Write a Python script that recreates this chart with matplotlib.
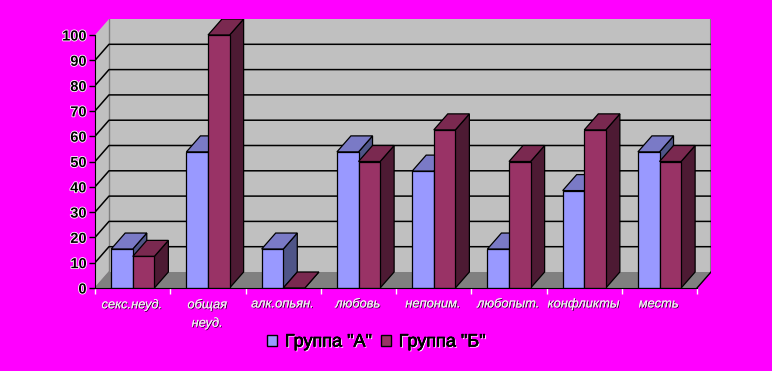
import matplotlib
matplotlib.use("Agg")
import matplotlib.pyplot as plt
import matplotlib.patheffects as pe
from matplotlib.patches import Polygon

categories = ["секс.неуд.", "общая\nнеуд.", "алк.опьян.", "любовь",
              "непоним.", "любопыт.", "конфликты", "месть"]
group_a = [15.4, 53.8, 15.4, 53.8, 46.2, 15.4, 38.5, 53.8]
group_b = [12.5, 100, 0, 50, 62.5, 50, 62.5, 50]
y_ticks = [0, 10, 20, 30, 40, 50, 60, 70, 80, 90, 100]
series_names = ['Группа "А"', 'Группа "Б"']

W, H = 772, 371
BG = "#FF00FF"
# pixel geometry of the plot box
x0_px, x1_px = 95, 697
y0_px, y100_px = 288, 35
dx_px, dy_px = 14, 16
cat_px = (x1_px - x0_px) / len(categories)
val_px = (y0_px - y100_px) / 100
dx = dx_px / cat_px
dy = dy_px / val_px
bar_start = 0.215
bar_w = 0.287

plt.rcParams["font.family"] = ["Liberation Sans", "DejaVu Sans"]
fig = plt.figure(figsize=(W / 100, H / 100), dpi=100, facecolor=BG)
ax = fig.add_axes([x0_px / W, 1 - y0_px / H, (x1_px - x0_px + dx_px) / W,
                   (y0_px - y100_px + dy_px) / H])
ax.set_facecolor("none")
n = len(categories)
ax.set_xlim(0, n + dx)
ax.set_ylim(0, 100 + dy)


def poly(pts, color, edge="none", lw=0.0, z=1):
    ax.add_patch(Polygon(pts, closed=True, facecolor=color, edgecolor=edge,
                         linewidth=lw, zorder=z, joinstyle="miter"))


# walls and floor
poly([(0, 0), (dx, dy), (dx, 100 + dy), (0, 100)], "#C0C0C0")
poly([(dx, dy), (n + dx, dy), (n + dx, 100 + dy), (dx, 100 + dy)], "#C0C0C0")
poly([(0, 0), (n, 0), (n + dx, dy), (dx, dy)], "#808080")
ax.plot([dx, dx], [dy, 100 + dy], color="#808080", lw=1, zorder=2)
ax.plot([n + dx, n + dx], [dy, 100 + dy], color="#808080", lw=1.5, zorder=2)
ax.plot([0, dx], [0, dy], color="#808080", lw=1, zorder=2)
ax.plot([n, n + dx], [0, dy], color="black", lw=1, zorder=2)

for t in y_ticks[1:-1]:
    ax.plot([0, dx, n + dx], [t, t + dy, t + dy], color="black", lw=1.1, zorder=2)


def bar3d(x, h, front, top, side, z):
    w = bar_w
    poly([(x + w, 0), (x + w + dx, dy), (x + w + dx, h + dy), (x + w, h)], side, "black", 0.9, z)
    poly([(x, h), (x + w, h), (x + w + dx, h + dy), (x + dx, h + dy)], top, "black", 0.9, z)
    if h > 0:
        poly([(x, 0), (x + w, 0), (x + w, h), (x, h)], front, "black", 0.9, z)


z = 3
for i in range(n):
    bar3d(i + bar_start, group_a[i], "#9999FF", "#7A7AC6", "#4F5588", z)
    bar3d(i + bar_start + bar_w, group_b[i], "#993366", "#7A2950", "#4D1A33", z + 1)
    z += 2

# axes
for s in ["top", "right"]:
    ax.spines[s].set_visible(False)
ax.spines["left"].set_bounds(0, 100)
ax.spines["bottom"].set_bounds(0, n)
ax.spines["left"].set_zorder(30)
ax.spines["bottom"].set_zorder(30)
ax.set_xticks(range(n + 1))
ax.set_xticklabels([])
ax.set_yticks(y_ticks)
ax.tick_params(axis="y", length=4, width=1, pad=2, labelsize=10.5)
ax.tick_params(axis="x", length=4, width=1, color="white")
for lab in ax.get_yticklabels():
    lab.set_fontweight("bold")
    lab.set_color("black")
    lab.set_path_effects([pe.withStroke(linewidth=1.2, foreground="white")])

for i, c in enumerate(categories):
    ax.annotate(c, xy=(i + 0.5, 0), xycoords="data", xytext=(-0.5, -7.5),
                textcoords="offset points", ha="center", va="top",
                fontsize=9.3, style="italic", color="#F0F0F0", linespacing=1.55,
                path_effects=[pe.withSimplePatchShadow(offset=(0.6, -0.6), shadow_rgbFace="black", alpha=0.8),
                              pe.Normal()])

# legend
handles = [plt.Rectangle((0, 0), 1, 1, facecolor=col, edgecolor="black", lw=1)
           for col in ["#9999FF", "#993366"]]
leg = fig.legend(handles, series_names, loc="center", bbox_to_anchor=(376 / W, 1 - 342 / H),
                 ncol=2, frameon=False, fontsize=13, handlelength=0.55, handleheight=0.55,
                 handletextpad=0.45, columnspacing=0.5, borderpad=0)
for t in leg.get_texts():
    t.set_color("black")
    t.set_path_effects([pe.withSimplePatchShadow(offset=(0.8, -0.8), shadow_rgbFace="white", alpha=1),
                        pe.withStroke(linewidth=0.4, foreground="black")])

fig.savefig("out.png", dpi=100, facecolor=BG)
